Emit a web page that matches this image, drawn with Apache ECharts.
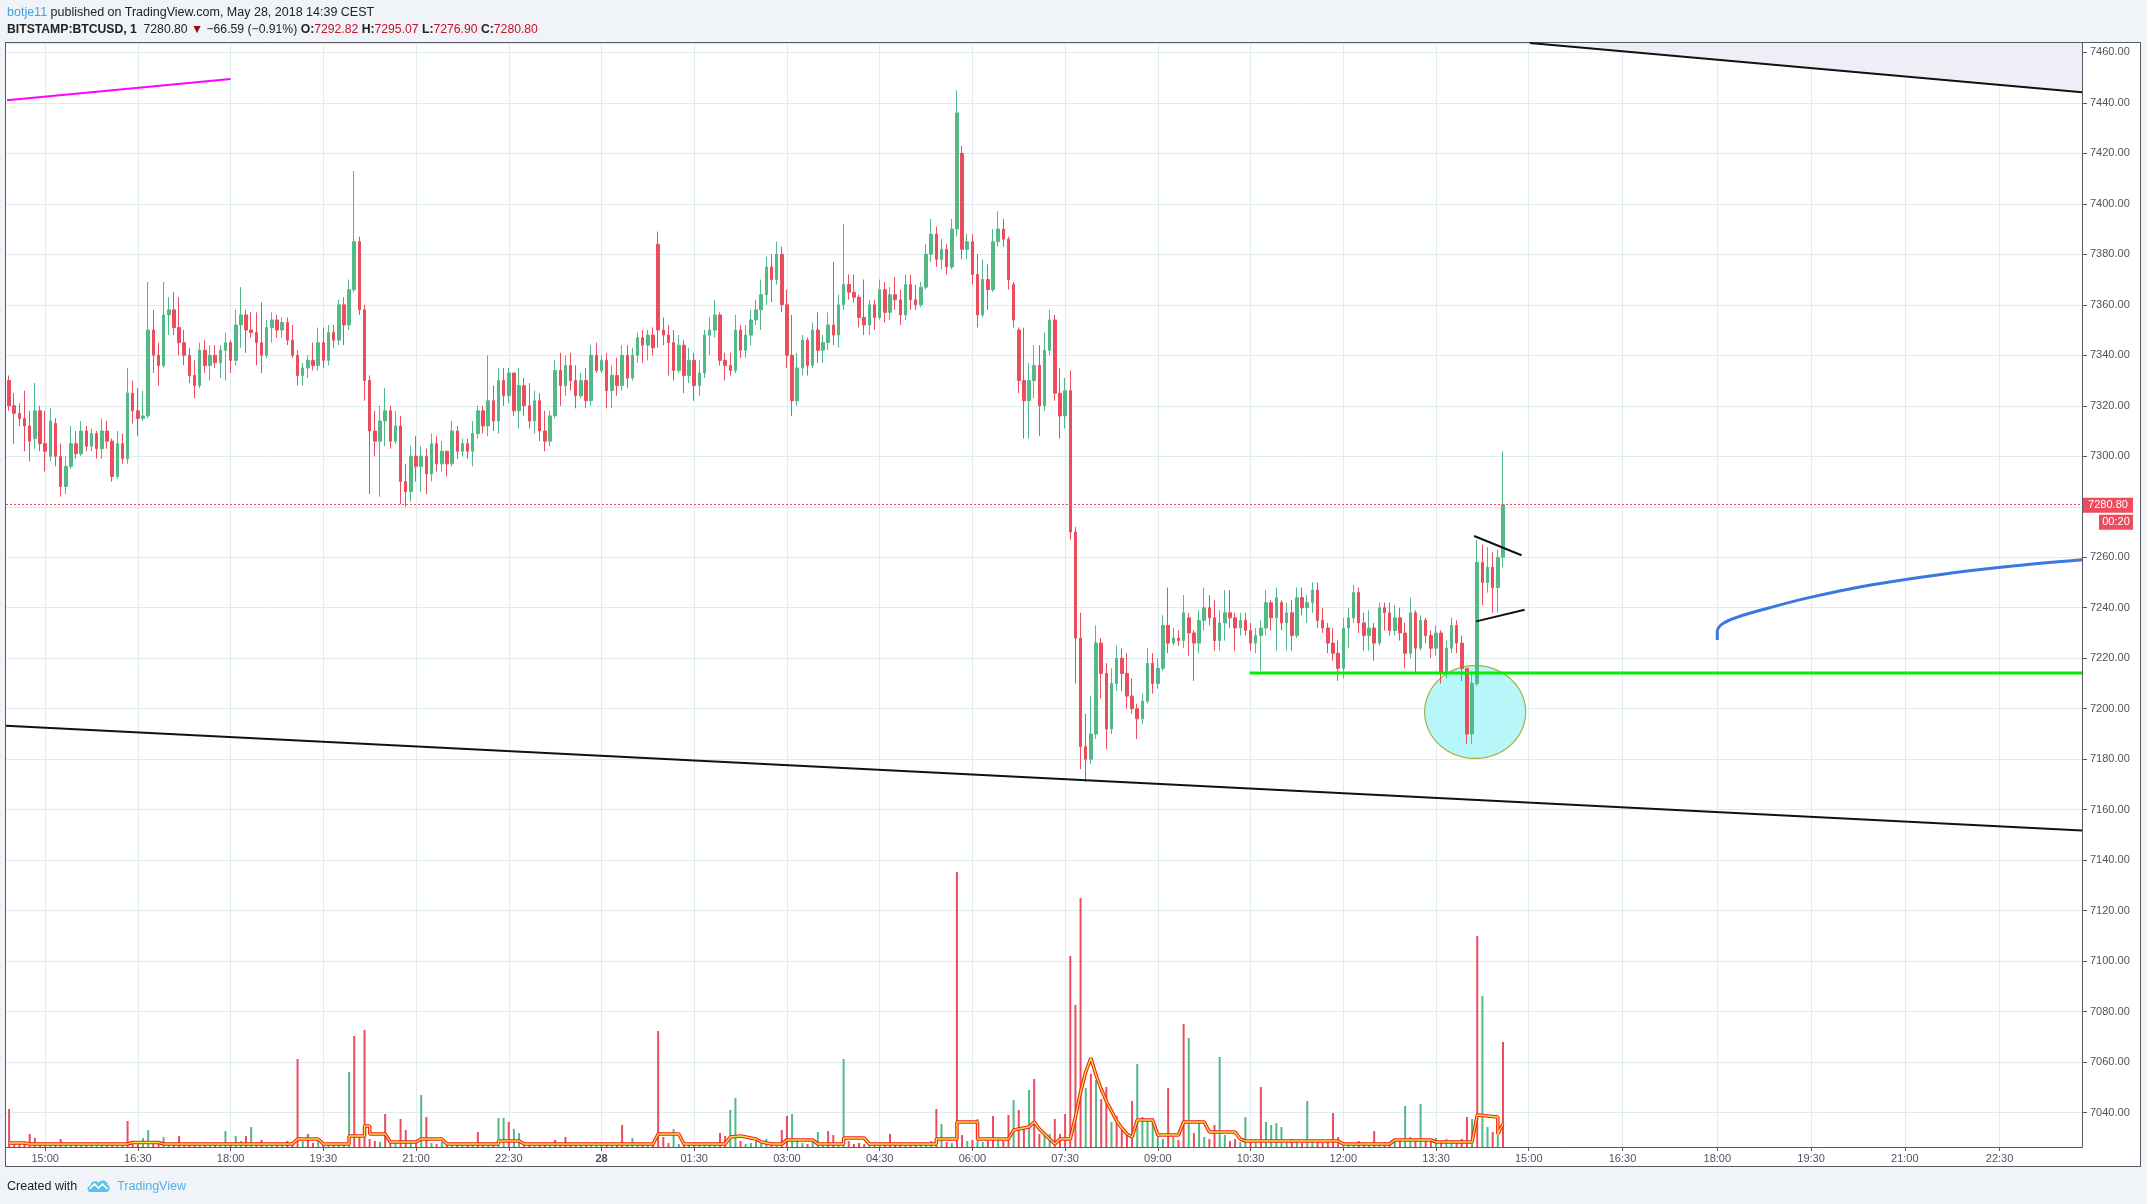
<!DOCTYPE html>
<html>
<head>
<meta charset="utf-8">
<script src="https://cdn.jsdelivr.net/npm/echarts@6/dist/echarts.min.js"></script>
<style>
html,body{margin:0;padding:0;width:2147px;height:1204px;overflow:hidden;background:#f0f3f7;font-family:'Liberation Sans',Arial,sans-serif;}
#box{position:absolute;left:5px;top:42px;width:2134px;height:1123px;border:1px solid #555a63;background:#fff;}
#chart{position:absolute;left:0;top:0;width:2147px;height:1204px;}
.hdr{position:absolute;left:7px;white-space:nowrap;color:#222;}
#h1{top:4px;line-height:16px;font-size:12.5px;}
#h2{top:21px;line-height:17px;font-size:12.2px;}
.red{color:#c0142a;}
#foot{position:absolute;left:7px;top:1178px;line-height:17px;font-size:12.5px;color:#222;white-space:nowrap;}
#foot svg{vertical-align:-3px;margin:0 6px 0 9px;}
</style>
</head>
<body>
<div id="box"></div>
<div id="chart"></div>
<div class="hdr" id="h1"><span style="color:#3ba5de">botje11</span> published on TradingView.com, May 28, 2018 14:39 CEST</div>
<div class="hdr" id="h2"><b>BITSTAMP:BTCUSD, 1</b>&nbsp; 7280.80 <span style="color:#8e0e12">&#9660;</span> &minus;66.59 (&minus;0.91%) <b>O:</b><span class="red">7292.82</span> <b>H:</b><span class="red">7295.07</span> <b>L:</b><span class="red">7276.90</span> <b>C:</b><span class="red">7280.80</span></div>
<div id="foot">Created with<svg width="25" height="15" viewBox="0 0 24 15"><path d="M4 14 C0 14 0 8 4 8 C4 3 10 2 12 5 C14 1 21 2 21 7 C24 7 24 14 20 14 Z" fill="#5bc0eb"/><path d="M3 11 L8 6 L12 10 L16 6 L21 11" stroke="#fff" stroke-width="1.6" fill="none"/></svg><span style="color:#4bb1e6">TradingView</span></div>
<script>
// ---------- axis / time ----------
const nCats = 2016;              // one category per minute slot, from 14:22 (May 27)
const startHour = 14, startMin = 22;
const timeTicks = ['15:00','16:30','18:00','19:30','21:00','22:30','28','01:30','03:00','04:30','06:00','07:30','09:00','10:30','12:00','13:30','15:00','16:30','18:00','19:30','21:00','22:30'];
// category index of each time tick (future part of TradingView's axis is spaced slightly wider)
const timeTickIdx = [38,128,218,308,398,488,578,668,758,848,938,1028,1118,1208,1298,1388,1478,1569,1661,1752,1843,1935];
const candleStart = 3, candleStep = 5;   // first candle at 14:25, 5-minute candles

// ---------- candles (5-minute) ----------
const candleOpen = [
7330,7320,7317,7315,7312,7307,7318,7305,7300,7313,
7300,7288,7296,7305,7301,7310,7304,7309,7303,7310,
7306,7292,7305,7299,7325,7318,7315,7316,7350,7340,
7336,7356,7358,7351,7345,7340,7332,7328,7342,7336,
7340,7337,7342,7345,7338,7352,7356,7350,7349,7345,
7340,7351,7354,7350,7353,7346,7340,7332,7335,7338,
7336,7345,7338,7349,7346,7360,7352,7366,7385,7358,
7330,7310,7306,7314,7318,7306,7312,7290,7286,7300,
7296,7300,7293,7305,7297,7302,7297,7310,7302,7305,
7302,7309,7318,7312,7322,7314,7330,7324,7333,7318,
7328,7320,7314,7322,7310,7306,7316,7334,7328,7336,
7330,7324,7330,7322,7340,7334,7338,7326,7332,7328,
7340,7331,7340,7347,7344,7348,7384,7350,7348,7345,
7334,7344,7332,7338,7328,7333,7348,7350,7356,7338,
7336,7334,7350,7342,7348,7354,7358,7364,7375,7370,
7380,7360,7340,7322,7335,7346,7336,7350,7342,7345,
7352,7348,7360,7368,7365,7363,7355,7352,7360,7355,
7366,7357,7364,7362,7356,7368,7362,7360,7367,7380,
7388,7378,7382,7375,7390,7420,7382,7385,7372,7356,
7370,7366,7385,7390,7386,7368,7350,7330,7322,7330,
7336,7320,7342,7354,7325,7316,7326,7270,7228,7185,
7180,7190,7226,7214,7192,7210,7220,7214,7205,7200,
7196,7203,7218,7210,7216,7233,7226,7228,7227,7236,
7230,7226,7235,7240,7236,7227,7234,7238,7236,7232,
7235,7231,7226,7229,7232,7242,7236,7242,7234,7238,
7229,7244,7240,7242,7247,7235,7232,7226,7222,7216,
7232,7236,7246,7234,7229,7232,7226,7240,7238,7231,
7236,7230,7222,7238,7224,7235,7229,7224,7230,7214,
7224,7233,7226,7216,7190,7210,7258,7250,7256,7248,
7260];
const candleHigh = [
7332,7325,7321,7326,7318,7329,7320,7318,7319,7315,
7305,7300,7312,7310,7314,7312,7311,7310,7315,7314,
7307,7310,7309,7335,7330,7327,7326,7369,7358,7345,
7369,7363,7365,7363,7350,7343,7338,7345,7346,7344,
7344,7344,7349,7346,7358,7367,7358,7357,7357,7361,
7354,7357,7356,7355,7355,7352,7342,7337,7340,7345,
7351,7351,7352,7352,7362,7363,7370,7413,7387,7360,
7332,7318,7320,7327,7320,7318,7316,7297,7304,7308,
7304,7303,7309,7308,7306,7302,7314,7312,7307,7307,
7314,7320,7320,7340,7328,7335,7335,7335,7333,7335,
7331,7329,7326,7325,7318,7318,7338,7341,7340,7341,
7336,7333,7335,7344,7345,7340,7341,7336,7339,7344,
7344,7343,7349,7350,7350,7351,7389,7355,7352,7350,
7348,7346,7343,7341,7338,7350,7355,7362,7357,7341,
7341,7356,7352,7352,7358,7362,7370,7379,7380,7385,
7383,7366,7356,7341,7348,7347,7353,7357,7348,7357,
7377,7364,7392,7372,7372,7364,7370,7362,7362,7370,
7369,7367,7371,7366,7372,7372,7368,7369,7384,7394,
7391,7386,7384,7394,7445,7423,7388,7388,7380,7378,
7376,7390,7397,7394,7387,7369,7351,7351,7337,7344,
7344,7349,7358,7356,7335,7331,7334,7272,7238,7198,
7205,7233,7228,7218,7216,7225,7224,7222,7212,7202,
7206,7224,7222,7220,7237,7248,7232,7231,7245,7238,
7231,7239,7248,7245,7243,7239,7247,7247,7238,7238,
7238,7234,7232,7235,7247,7243,7248,7243,7242,7243,
7248,7248,7245,7250,7250,7240,7234,7232,7227,7236,
7240,7249,7248,7238,7239,7234,7242,7242,7242,7241,
7240,7234,7244,7239,7237,7236,7231,7233,7231,7227,
7236,7235,7229,7216,7214,7267,7265,7264,7262,7263,
7302];
const candleLow = [
7318,7305,7312,7302,7298,7303,7302,7294,7298,7296,
7284,7285,7295,7299,7300,7302,7302,7299,7299,7303,
7290,7291,7297,7297,7313,7308,7314,7315,7333,7328,
7335,7348,7348,7340,7336,7329,7323,7327,7333,7330,
7335,7331,7330,7333,7336,7343,7341,7347,7336,7333,
7339,7345,7347,7347,7344,7339,7328,7328,7331,7334,
7334,7335,7336,7343,7344,7344,7350,7365,7356,7322,
7285,7300,7284,7304,7303,7305,7281,7280,7282,7290,
7286,7285,7290,7294,7294,7292,7296,7299,7300,7299,
7296,7307,7309,7308,7310,7309,7320,7321,7316,7311,
7316,7311,7309,7306,7302,7304,7315,7320,7324,7326,
7319,7323,7319,7320,7333,7333,7319,7319,7324,7326,
7327,7330,7337,7337,7338,7340,7343,7344,7332,7330,
7333,7325,7329,7322,7324,7331,7340,7347,7336,7330,
7332,7333,7339,7339,7344,7352,7350,7360,7361,7368,
7357,7335,7316,7320,7332,7332,7335,7337,7337,7342,
7344,7343,7358,7362,7361,7351,7348,7348,7350,7354,
7353,7354,7358,7352,7354,7358,7358,7359,7366,7377,
7375,7374,7372,7374,7387,7378,7378,7368,7351,7355,
7358,7365,7383,7383,7366,7351,7325,7307,7307,7323,
7308,7318,7340,7322,7307,7311,7267,7210,7176,7171,
7178,7188,7204,7184,7190,7207,7207,7200,7198,7188,
7194,7202,7206,7208,7215,7222,7225,7225,7224,7221,
7211,7222,7231,7233,7223,7223,7227,7232,7223,7229,
7229,7223,7222,7215,7229,7231,7223,7231,7223,7223,
7228,7237,7234,7238,7232,7230,7222,7219,7211,7212,
7224,7234,7230,7223,7223,7219,7225,7231,7229,7229,
7227,7216,7220,7214,7223,7226,7220,7221,7210,7212,
7222,7222,7211,7186,7186,7209,7241,7246,7238,7238,
7256];
const candleClose = [
7320,7317,7315,7312,7306,7318,7305,7302,7314,7300,
7288,7296,7305,7301,7310,7304,7309,7303,7310,7306,
7292,7305,7299,7325,7318,7315,7316,7350,7340,7336,
7356,7358,7351,7345,7340,7332,7328,7342,7336,7340,
7337,7342,7345,7338,7352,7356,7350,7349,7345,7340,
7351,7354,7350,7353,7346,7340,7332,7335,7338,7336,
7345,7338,7349,7346,7360,7352,7366,7385,7358,7330,
7310,7306,7314,7318,7306,7312,7290,7286,7300,7296,
7300,7293,7305,7297,7302,7297,7310,7302,7305,7302,
7309,7318,7312,7322,7314,7330,7324,7333,7318,7328,
7320,7314,7322,7310,7306,7316,7334,7328,7336,7330,
7324,7330,7322,7340,7334,7338,7326,7332,7328,7340,
7331,7340,7347,7344,7348,7343,7350,7348,7345,7334,
7344,7332,7338,7328,7333,7348,7350,7356,7338,7336,
7334,7350,7342,7348,7354,7358,7364,7375,7370,7380,
7360,7340,7322,7335,7346,7336,7350,7342,7345,7352,
7348,7360,7368,7365,7363,7355,7352,7360,7355,7366,
7357,7364,7362,7356,7368,7362,7360,7367,7380,7388,
7378,7382,7375,7390,7436,7382,7385,7372,7356,7370,
7366,7385,7390,7386,7370,7354,7330,7322,7330,7336,
7320,7342,7354,7325,7316,7326,7270,7228,7185,7180,
7190,7226,7214,7192,7210,7220,7214,7205,7200,7196,
7203,7218,7210,7216,7233,7226,7228,7227,7238,7230,
7226,7235,7240,7236,7227,7234,7238,7236,7232,7235,
7231,7226,7229,7232,7242,7236,7244,7234,7238,7229,
7244,7240,7242,7247,7235,7232,7226,7222,7216,7232,
7236,7246,7234,7229,7232,7226,7240,7238,7231,7236,
7230,7222,7238,7224,7235,7229,7224,7230,7214,7224,
7233,7226,7216,7190,7210,7258,7250,7256,7248,7260,
7280.8];

// ---------- volume (heights, in pixel units of the price pane) ----------
const volume = [
38,4,3,5,13,9,3,4,3,4,
8,3,2,3,2,3,2,5,3,2,
4,3,4,26,6,4,9,17,5,4,
10,4,3,11,3,4,3,2,3,2,
4,3,16,4,11,6,11,20,4,7,
3,4,2,3,6,3,88,6,13,4,
7,3,2,3,4,3,75,111,12,117,
8,6,5,33,4,5,28,17,4,5,
52,30,4,3,5,3,2,3,4,2,
3,15,4,5,3,29,29,25,18,14,
4,3,2,3,2,3,7,3,10,2,
3,2,4,3,5,2,3,4,3,22,
3,9,3,2,3,4,116,10,4,18,
3,4,2,3,4,3,2,3,14,11,
37,49,6,3,4,6,3,8,3,4,
17,31,33,8,4,3,5,15,4,16,
12,4,88,6,3,4,3,2,4,3,
2,13,4,3,3,2,4,3,4,6,
38,23,5,4,275,12,6,7,28,5,
6,31,8,6,32,47,37,20,57,68,
13,12,13,28,13,33,191,142,249,59,
73,67,48,60,25,31,17,15,46,83,
30,28,29,12,8,59,10,7,123,109,
14,27,10,8,22,90,12,6,8,5,
30,6,8,60,25,22,24,20,6,8,
5,4,46,7,5,4,6,34,10,5,
4,3,6,4,3,16,4,5,3,8,
6,41,10,8,43,6,5,9,4,8,
7,6,8,30,28,211,151,20,15,12,
105];
const volRed = [0,4,5,10,23,33,46,49,56,58,67,69,73,76,81,91,97,106,108,119,126,138,150,151,159,160,171,180,184,187,191,194,196,199,203,204,205,206,207,208,210,212,213,215,218,225,228,234,243,257,265,283,285,290];
const volGreen = [17,27,42,44,47,66,80,95,96,98,99,114,121,129,140,141,152,157,162,181,188,195,198,209,211,219,220,221,222,229,231,235,240,244,245,246,247,252,271,274,284,286];
// volume moving average, [candle number, height]
const volMA = [[0,4],[3,4],[4,3],[23,3],[24,4.5],[29,4.5],[30,3],[55,3],[56,8],[60,8],[61,3],[66,3],[66,11],[69,11],[69,21],[70,21],[70,13],[73,13],[74,5],[79,5],[80,8],[84,8],[85,3],[95,3],[95,6],[99,6],[100,3],[125,3],[126,13],[130,13],[131,3],[139,3],[140,10],[142,11],[145,8],[146,5],[148,3],[150,3],[151,7],[156,7],[157,3],[162,3],[162,9],[166,9],[167,3],[180,3],[180,8],[184,8],[184,25],[188,25],[188,8],[194,8],[195,17],[198,20],[199,25],[200,18],[202,8],[203,3],[204,8],[206,8],[207,30],[208,55],[209,75],[210,89],[211,72],[212,58],[213,46],[214,36],[215,26],[216,19],[217,13],[218,10],[219,27],[222,27],[223,12],[227,12],[228,25],[232,25],[233,15],[238,15],[239,8],[240,6],[258,6],[259,3],[268,3],[269,7],[276,7],[277,5],[284,5],[285,32],[289,30],[289,13],[290,23]];

// ---------- drawings, [minute-slot index, price] ----------
const magentaLine = [[1,7441],[218,7449.4]];
const upperTrend = [[1479,7463.7],[2015,7444.2]];
const lowerTrend = [[0,7193.3],[2015,7151.8]];
const supportLine = [[1207,7214.2],[2015,7214.2]];
const pennantTop = [[1425,7268.4],[1471,7260.8]];
const pennantBottom = [[1427,7234.6],[1474,7239.2]];
const blueCurve = [[1661,7227.2],[1661,7230.6],[1666,7233.6],[1680,7236.2],[1710,7239.8],[1750,7244],[1810,7249],[1880,7253.3],[1950,7256.6],[2015,7259]];
const circleSpec = [1426, 7198.7, 49, 18.4]; // centre slot, centre price, x-radius (slots), y-radius (price)
const lastPrice = 7280.80;
const countdown = '00:20';

const yMin = 7026.4, yMax = 7463.7, volAxisMax = 1104;
const UP = '#53b987', DOWN = '#eb4d5c', GRID = '#e1ecf2', AXIS = '#555a63', TXT = '#4c525e';

// ---------- build ----------
const pad = n => (n < 10 ? '0' : '') + n;
const categories = [];
for (let i = 0; i < nCats; i++) {
  const t = startHour * 60 + startMin + i;
  categories.push((t >= 1440 ? '28 ' : '27 ') + pad(Math.floor(t / 60) % 24) + ':' + pad(t % 60));
}
const xOf = k => candleStart + k * candleStep;
const candleData = candleOpen.map((o, k) => [xOf(k), o, candleClose[k], candleLow[k], candleHigh[k]]);
const volData = volume.map((v, k) => {
  let up = candleClose[k] >= candleOpen[k];
  if (volRed.indexOf(k) >= 0) up = false;
  if (volGreen.indexOf(k) >= 0) up = true;
  return { value: [xOf(k), v], itemStyle: { color: up ? UP : DOWN } };
});
const maData = volMA.map(p => [xOf(p[0]), p[1]]);
const tickShow = idx => timeTickIdx.indexOf(idx) >= 0;

function lineSeries(data, color, width, extra) {
  return Object.assign({
    type: 'line', data: data, symbol: 'none', silent: true, animation: false,
    lineStyle: { color: color, width: width }, z: 5
  }, extra || {});
}

const chart = echarts.init(document.getElementById('chart'), null, { renderer: 'canvas' });
chart.setOption({
  animation: false,
  backgroundColor: 'transparent',
  grid: { left: 6, top: 43, width: 2076, height: 1104, containLabel: false },
  xAxis: {
    type: 'category', data: categories, boundaryGap: false,
    axisLine: { show: true, lineStyle: { color: AXIS } },
    axisTick: { show: true, interval: tickShow, length: 4, lineStyle: { color: AXIS } },
    axisLabel: {
      interval: tickShow, color: TXT, fontSize: 11, margin: 6, fontFamily: 'Liberation Sans',
      formatter: (v, idx) => { const s = timeTicks[timeTickIdx.indexOf(idx)]; return s === '28' ? '{b|28}' : s; },
      rich: { b: { fontWeight: 'bold', fontSize: 11, color: TXT } }
    },
    splitLine: { show: true, interval: tickShow, lineStyle: { color: GRID, width: 1 } }
  },
  yAxis: [{
    type: 'value', position: 'right', min: yMin, max: yMax, minInterval: 20, maxInterval: 20, splitNumber: 22,
    axisLine: { show: true, lineStyle: { color: AXIS } },
    axisTick: { show: true, length: 5, lineStyle: { color: AXIS } },
    axisLabel: { color: TXT, fontSize: 11, margin: 8, fontFamily: 'Liberation Sans', showMinLabel: false, showMaxLabel: false, formatter: v => v.toFixed(2) },
    splitLine: { show: true, lineStyle: { color: GRID, width: 1 } }
  }, {
    type: 'value', min: 0, max: volAxisMax, show: false, splitLine: { show: false }
  }],
  series: [
    { type: 'bar', yAxisIndex: 1, data: volData, barWidth: 2, silent: true, animation: false, z: 1 },
    lineSeries(maData, '#ff1a1a', 3.5, { yAxisIndex: 1, z: 1 }),
    lineSeries(maData, '#e4e83c', 1.3, { yAxisIndex: 1, z: 1 }),
    lineSeries(upperTrend, '#111', 2, { areaStyle: { color: '#efeef6', opacity: 1, origin: 'end' }, z: 1 }),
    {
      type: 'custom', data: [circleSpec], encode: { x: 0, y: 1 }, silent: true, animation: false, z: 1,
      renderItem: (params, api) => {
        const c = api.coord([api.value(0), api.value(1)]);
        const e = api.coord([api.value(0) + api.value(2), api.value(1) + api.value(3)]);
        const rx = Math.abs(e[0] - c[0]), ry = Math.abs(e[1] - c[1]);
        const pts = [];
        for (let a = 0; a < 96; a++) { const t = a / 96 * Math.PI * 2; pts.push([c[0] + rx * Math.cos(t), c[1] + ry * Math.sin(t)]); }
        return { type: 'polygon', shape: { points: pts }, style: { fill: '#b7f7fa', stroke: '#a3b13c', lineWidth: 1.2 } };
      }
    },
    {
      type: 'candlestick', data: candleData, encode: { x: 0, y: [1, 2, 3, 4] }, barWidth: 3,
      silent: true, animation: false, z: 3,
      itemStyle: { color: UP, color0: DOWN, borderColor: UP, borderColor0: DOWN, borderWidth: 1 },
      markLine: {
        silent: true, symbol: 'none', animation: false,
        data: [{ yAxis: lastPrice }],
        lineStyle: { color: DOWN, type: [2, 2], width: 1 },
        label: { show: false }
      }
    },
    lineSeries(magentaLine, '#ff00ff', 2),
    lineSeries(lowerTrend, '#111', 2),
    lineSeries(supportLine, '#00ee00', 3),
    lineSeries(pennantTop, '#111', 2),
    lineSeries(pennantBottom, '#111', 2),
    lineSeries(blueCurve, '#3a78e0', 3, { smooth: 0.35 })
  ]
});

const py = chart.convertToPixel({ yAxisIndex: 0 }, lastPrice);
const axisX = 2083;
chart.setOption({
  graphic: [
    { type: 'rect', shape: { x: axisX, y: py - 7, width: 50, height: 15 }, style: { fill: DOWN }, z: 100 },
    { type: 'text', x: axisX + 25, y: py + 0.5, style: { text: lastPrice.toFixed(2), fill: '#fff', font: '11px Liberation Sans', align: 'center', verticalAlign: 'middle' }, z: 101 },
    { type: 'rect', shape: { x: axisX + 16, y: py + 10, width: 34, height: 15 }, style: { fill: DOWN }, z: 100 },
    { type: 'text', x: axisX + 33, y: py + 17.5, style: { text: countdown, fill: '#fff', font: '11px Liberation Sans', align: 'center', verticalAlign: 'middle' }, z: 101 }
  ]
});
</script>
</body>
</html>
